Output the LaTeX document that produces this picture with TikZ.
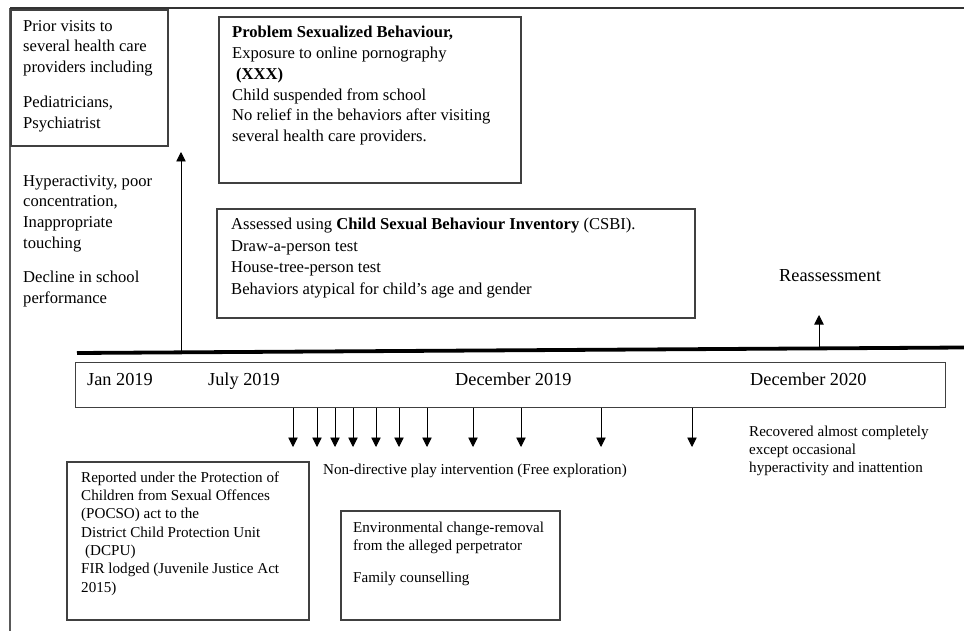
\documentclass[tikz,border=0pt]{standalone}
\usepackage{fontspec}
\setmainfont{Liberation Serif}
\usetikzlibrary{arrows.meta}
\begin{document}
\begin{tikzpicture}[x=1pt,y=-1pt,
  box/.style={draw=black!75,line width=1.1pt},
  txt/.style={anchor=north west,align=left,inner sep=0pt,font=\fontsize{16.6}{20.8}\selectfont},
  small/.style={anchor=north west,align=left,inner sep=0pt,font=\fontsize{15.1}{18.3}\selectfont},
  big/.style={inner sep=0pt,font=\fontsize{18.3}{22}\selectfont},
  arr/.style={-{Triangle[width=9.5pt,length=9.5pt]},line width=0.9pt}]
\useasboundingbox (0,0) rectangle (964,631);
\coordinate (a) at (11,10);
\coordinate (b) at (168,146);
\coordinate (c) at (219,17);
\coordinate (d) at (521,183);
\coordinate (e) at (217,209);
\coordinate (f) at (695,318);
\coordinate (g) at (67,462);
\coordinate (h) at (309,620);
\coordinate (i) at (341,511);
\coordinate (j) at (560,620);
\coordinate (k) at (77,353);
\coordinate (l) at (964,347.5);
\coordinate (m) at (181,352.6);
\coordinate (n) at (181,152);
\coordinate (o) at (819,348);
\coordinate (p) at (819,315);
% frame
\draw[black!65,line width=1.4pt](10,631)--(10,8);
\draw[black!80,line width=1.4pt](10,8)--(964,8);
\draw[box](a) rectangle (b);
\draw[box](c) rectangle (d);
\draw[box](e) rectangle (f);
\draw[box](g) rectangle (h);
\draw[box](i) rectangle (j);
\node[box,anchor=north west,inner sep=0pt,minimum width=870,minimum height=45] (dates) at (75,362) {};
\draw[line width=3.8pt](k)--(l);
\draw[arr](m)--(n);
\draw[arr](o)--(p);
\foreach \x [count=\q] in {293,317,335,353,376,399,427,473,521,601,692}{
  \coordinate (t\q) at (\x,447);
  \draw[arr](t\q |- dates.south)--(t\q);
}
\node[txt] (visits) at (23,20) {Prior visits to\\several health care\\providers including\\[14pt]Pediatricians,\\Psychiatrist};
\node[txt] (symptoms) at (23,175) {Hyperactivity, poor\\concentration,\\Inappropriate\\touching\\[13.5pt]Decline in school\\performance};
\node[txt] (problem) at (232,26) {\textbf{Problem Sexualized Behaviour,}\\Exposure to online pornography\\\hspace{4pt}\textbf{(XXX)}\\Child suspended from school\\No relief in the behaviors after visiting\\several health care providers.};
\node[txt,font=\fontsize{16.6}{21.5}\selectfont] (assess) at (231,218) {Assessed using \textbf{Child Sexual Behaviour Inventory} (CSBI).\\Draw-a-person test\\House-tree-person test\\Behaviors atypical for child's age and gender};
\node[big] (reassess) at (830,276) {Reassessment};
\node[big,anchor=base west] (jan) at (87,385) {Jan 2019};
\node[big,anchor=base west] (july) at (208,385) {July 2019};
\node[big,anchor=base west] (dec19) at (455,385) {December 2019};
\node[big,anchor=base west] (dec20) at (750,385) {December 2020};
\node[small,anchor=base west] (play) at (323,474) {Non-directive play intervention (Free exploration)};
\node[small] (recovered) at (749,425.5) {Recovered almost completely\\except occasional\\hyperactivity and inattention};
\node[small] (reported) at (81,471.5) {Reported under the Protection of\\Children from Sexual Offences\\(POCSO) act to the\\District Child Protection Unit\\\hspace{4pt}(DCPU)\\FIR lodged (Juvenile Justice Act\\2015)};
\node[small] (removal) at (353,521.5) {Environmental change-removal\\from the alleged perpetrator\\[14pt]Family counselling};
\end{tikzpicture}
\end{document}
